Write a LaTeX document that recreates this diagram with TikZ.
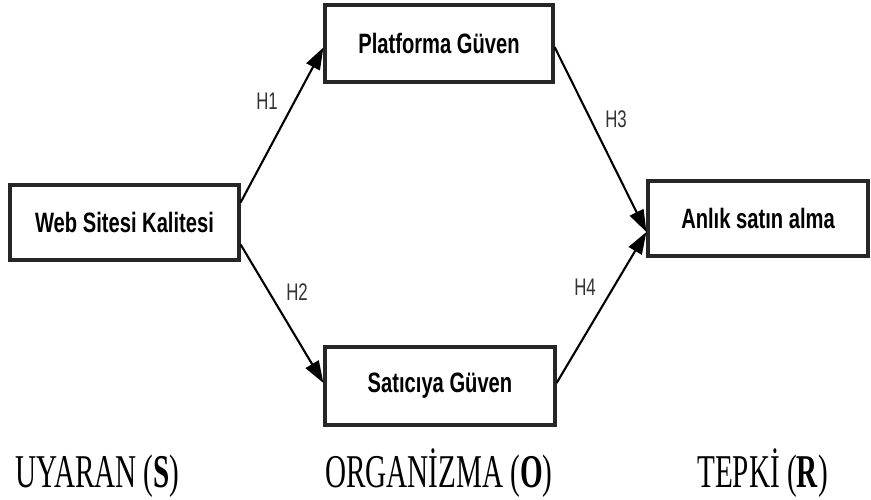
\documentclass[tikz,border=0pt]{standalone}
\usepackage{fontspec}
\setmainfont{Liberation Serif}
\newfontfamily\arialf{Liberation Sans}
\usetikzlibrary{arrows.meta,calc}
\tikzset{
  boxnode/.style={draw=black!85, line width=3.2pt, fill=white, inner sep=0pt},
  conn/.style={line width=2.1pt, -{Triangle[length=22pt,width=15pt]}},
  hlabel/.style={font=\arialf\fontsize{24}{24}\selectfont, text=black!80, inner sep=0pt},
  bottomlabel/.style={font=\fontsize{47}{47}\selectfont, inner sep=0pt, anchor=base west}
}
\newcommand{\boxtext}[1]{\scalebox{0.72}[1]{\arialf\bfseries\fontsize{28}{28}\selectfont #1}}
\newcommand{\hsq}[1]{\scalebox{0.7}[1]{#1}}
\newcommand{\bsq}[1]{\scalebox{0.62}[1]{#1}}
\begin{document}
\begin{tikzpicture}[x=1pt,y=-1pt]
\useasboundingbox (0,0) rectangle (871,499);
\node[boxnode, minimum width=229pt, minimum height=75pt] (web) at (124.5,222.5) {\boxtext{Web Sitesi Kalitesi}};
\node[boxnode, minimum width=228pt, minimum height=77pt] (plat) at (439,43.5) {\boxtext{Platforma Güven}};
\node[boxnode, minimum width=220pt, minimum height=75pt] (anl) at (758,218.5) {\boxtext{Anlık satın alma}};
\node[boxnode, minimum width=230pt, minimum height=78pt] (sat) at (440,386) {\boxtext{Satıcıya Güven}};

\draw[conn] ([yshift=20pt]web.east) -- ([yshift=-4pt]plat.west);
\draw[conn] ([yshift=-22pt]web.east) -- ([yshift=3pt]sat.west);
\draw[conn] ([yshift=-3.5pt]plat.east) -- ([yshift=-13.5pt]anl.west);
\draw[conn] ([yshift=3pt]sat.east) -- ([yshift=-13.5pt]anl.west);

\node[hlabel] (h1) at (267,101) {\hsq{H1}};
\node[hlabel] (h2) at (297,292) {\hsq{H2}};
\node[hlabel] (h3) at (616,119) {\hsq{H3}};
\node[hlabel] (h4) at (585,287) {\hsq{H4}};

\node[bottomlabel] (s) at (15,487) {\bsq{UYARAN (\textbf{S})}};
\node[bottomlabel] (o) at (325,487) {\bsq{ORGANİZMA (\textbf{O})}};
\node[bottomlabel] (r) at (697,487) {\bsq{TEPKİ (\textbf{R})}};
\end{tikzpicture}
\end{document}
